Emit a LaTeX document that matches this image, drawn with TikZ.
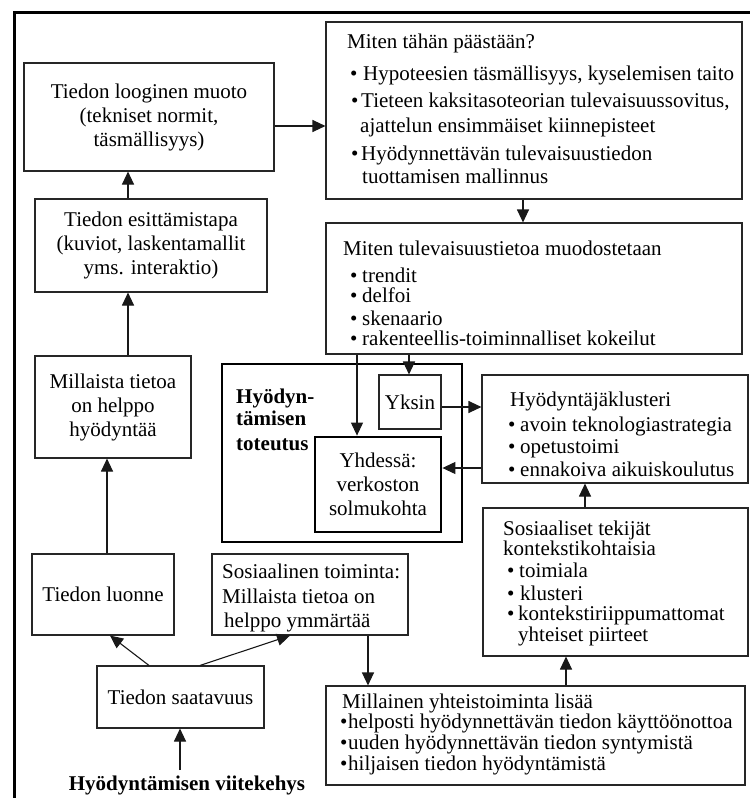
\documentclass[tikz,border=0pt]{standalone}
\usepackage{fontspec}
\setmainfont{Liberation Serif}
\usetikzlibrary{arrows.meta,calc}
\newcommand\mylines[1]{\parbox[t]{430pt}{\raggedright #1}}
\newcommand\blt[2]{\hspace*{#1}\makebox[#2][l]{\textbullet}}
\begin{document}
\begin{tikzpicture}[x=1pt,y=-1pt,
  every node/.style={font=\fontsize{21}{24}\selectfont, inner sep=0pt, text=black},
  box/.style={draw=black!85, line width=1.1pt, rectangle, align=center},
  thickbox/.style={draw=black, line width=2.8pt, rectangle, align=center},
  txt/.style={anchor=base west},
  arr/.style={draw=black!90, line width=1.1pt, -{Triangle[length=13pt,width=12pt]}}
]
\useasboundingbox (0,0) rectangle (750,798);
\fill[white] (0,0) rectangle (750,798);
\draw[line width=3pt] (14,798) -- (14,12) -- (750,12);

% left column
\node[box, minimum width=250pt, minimum height=108pt] (A) at (149,117) {Tiedon looginen muoto\\(tekniset normit,\\täsmällisyys)};
\node[box, minimum width=232pt, minimum height=93pt] (B) at (151,245.5) {Tiedon esittämistapa\\(kuviot, laskentamallit\\yms. interaktio)};
\node[box, minimum width=156pt, minimum height=102pt] (C) at (113,407) {Millaista tietoa\\on helppo\\hyödyntää};
\node[box, minimum width=142pt, minimum height=81pt] (D) at (103,594.5) {Tiedon luonne};
\node[box, minimum width=196pt, minimum height=81pt] (E) at (310,594.5) {};
\node[txt] (Et) at (222,578) {\mylines{Sosiaalinen toiminta:\\[1pt]Millaista tietoa on\\\hspace*{2pt}helppo ymmärtää}};
\node[box, minimum width=167pt, minimum height=62pt] (F) at (180.5,697) {Tiedon saatavuus};
\node[font=\fontsize{21}{24}\selectfont\bfseries, anchor=base] (L) at (187,790) {Hyödyntämisen viitekehys};
\coordinate (Ls) at (180,770);

% right column
\node[box, minimum width=416pt, minimum height=177pt] (G) at (534,110.5) {};
\node[txt] (Gt) at (347,48) {\mylines{Miten tähän päästään?\\[8pt]
\blt{3pt}{13pt}Hypoteesien täsmällisyys, kyselemisen taito\\[3pt]
\blt{4pt}{10pt}Tieteen kaksitasoteorian tulevaisuussovitus,\\[1pt]
\hspace*{13pt}ajattelun ensimmäiset kiinnepisteet\\[4pt]
\blt{4pt}{10pt}Hyödynnettävän tulevaisuustiedon\\[-1pt]
\hspace*{15pt}tuottamisen mallinnus}};

\node[box, minimum width=416pt, minimum height=131pt] (H) at (534,288.5) {};
\node[txt] (Ht) at (343,255) {\mylines{Miten tulevaisuustietoa muodostetaan\\[3pt]
\blt{7pt}{12pt}trendit\\[-4pt]
\blt{7pt}{12pt}delfoi\\[-1pt]
\blt{7pt}{12pt}skenaario\\[-4pt]
\blt{7pt}{12pt}rakenteellis-toiminnalliset kokeilut}};

% toteutus
\node[thickbox, minimum width=240pt, minimum height=178pt] (T) at (342,453) {};
\node[txt, font=\fontsize{21}{24}\selectfont\bfseries] (Tt) at (236,403) {\mylines{Hyödyn-\\[-2pt]tämisen\\[1pt]toteutus}};
\node[box, minimum width=62pt, minimum height=54pt] (Y) at (410,402) {Yksin};
\node[thickbox, minimum width=126pt, minimum height=95pt] (YH) at (378,484.5) {Yhdessä:\\verkoston\\solmukohta};

\node[box, minimum width=266pt, minimum height=108pt] (K) at (615,429) {};
\node[txt] (Kt) at (510,406) {\mylines{Hyödyntäjäklusteri\\[1pt]
\blt{-2pt}{12pt}avoin teknologiastrategia\\[-2pt]
\blt{-2pt}{12pt}opetustoimi\\[-1pt]
\blt{-2pt}{12pt}ennakoiva aikuiskoulutus}};

\node[box, minimum width=265pt, minimum height=148pt] (S) at (615.5,582) {};
\node[txt] (St) at (503,535) {\mylines{Sosiaaliset tekijät\\[-4pt]
kontekstikohtaisia\\[-2pt]
\blt{4pt}{12pt}toimiala\\[-1pt]
\blt{4pt}{13pt}klusteri\\[-4pt]
\blt{4pt}{11pt}kontekstiriippumattomat\\[-3pt]
\hspace*{15pt}yhteiset piirteet}};

\node[box, minimum width=419pt, minimum height=99pt] (M) at (535.5,735.5) {};
\node[txt] (Mt) at (342,708) {\mylines{Millainen yhteistoiminta lisää\\[-4pt]
\blt{-2pt}{8pt}helposti hyödynnettävän tiedon käyttöönottoa\\[-3pt]
\blt{-2pt}{8pt}uuden hyödynnettävän tiedon syntymistä\\[-3pt]
\blt{-2pt}{8pt}hiljaisen tiedon hyödyntämistä}};

% connectors
\draw[arr] ([yshift=-9pt]A.east) -- ([yshift=-9pt]A.east -| G.west);
\draw[arr] ([xshift=-23pt]B.north) -- ([xshift=-23pt]B.north |- A.south);
\draw[arr] ([xshift=15pt]C.north) -- ([xshift=15pt]C.north |- B.south);
\draw[arr] ([xshift=4pt]D.north) -- ([xshift=4pt]D.north |- C.south);
\draw[arr] ([xshift=-31.5pt]F.north) -- ([xshift=7pt]D.south);
\draw[arr] ([xshift=19.5pt]F.north) -- ([xshift=-20pt]E.south);
\draw[arr] (Ls) -- (Ls |- F.south);
\draw[arr] ([xshift=58pt]E.south) -- ([xshift=58pt]E.south |- M.north);
\draw[arr] ([xshift=30.5pt]M.north) -- ([xshift=30.5pt]M.north |- S.south);
\draw[arr] ([xshift=-30.5pt]S.north) -- ([xshift=-30.5pt]S.north |- K.south);
\draw[arr] ([yshift=-39pt]K.west) -- ([yshift=-39pt]K.west -| YH.east);
\draw[arr] ([yshift=-5pt]Y.east) -- ([yshift=-5pt]Y.east -| K.west);
\draw[arr] ([xshift=-11pt]G.south) -- ([xshift=-11pt]G.south |- H.north);
\draw[arr] ([xshift=-177pt]H.south) -- ([xshift=-177pt]H.south |- YH.north);
\draw[arr] ([xshift=-125pt]H.south) -- ([xshift=-125pt]H.south |- Y.north);
\end{tikzpicture}
\end{document}
